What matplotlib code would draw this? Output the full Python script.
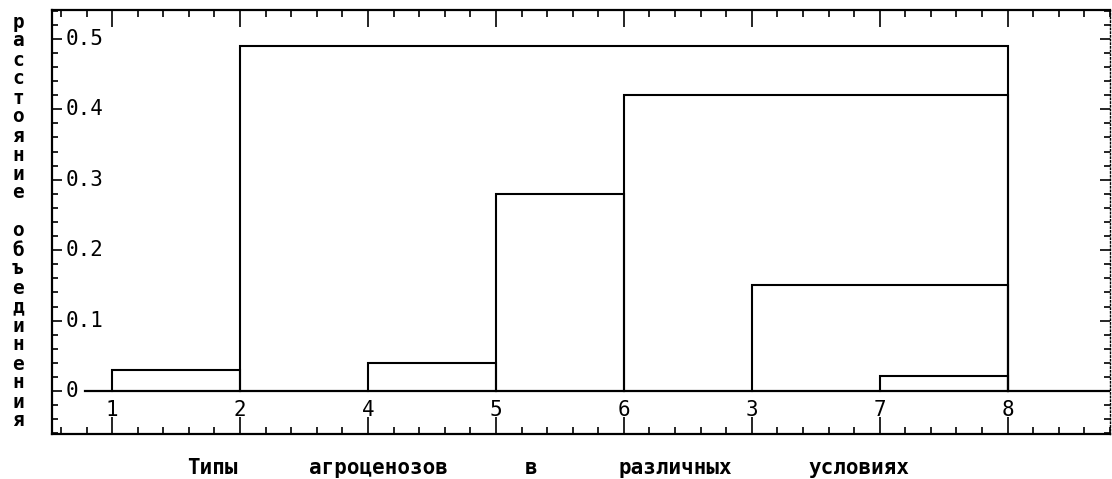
import numpy as np
from matplotlib import pyplot as plt
from matplotlib.ticker import MultipleLocator

# порядок листьев на оси и высоты объединения
leaves = ['1', '2', '4', '5', '6', '3', '7', '8']
link_from = ['1', '2', '4', '5', '6', '3', '7']
link_to = ['2', '8', '5', '6', '8', '8', '8']
link_h = [0.03, 0.49, 0.04, 0.28, 0.42, 0.15, 0.022]

ytick_vals = [0, 0.1, 0.2, 0.3, 0.4, 0.5]
ytick_text = ['0', '0.1', '0.2', '0.3', '0.4', '0.5']

ylabel = 'расстояние объединения'
xwords = ['Типы', 'агроценозов', 'в', 'различных', 'условиях']
xword_pos = [212, 378, 531, 675, 859]   # центры слов в пикселях

mono = 'DejaVu Sans Mono'

fig = plt.figure(figsize=(11.12, 4.79), dpi=100)
ax = fig.add_axes([52/1112, 45/479, 1058/1112, 424/479])

pos = {name: i for i, name in enumerate(leaves)}
for a, b, h in zip(link_from, link_to, link_h):
    xa, xb = pos[a], pos[b]
    ax.plot([xa, xa, xb, xb], [0, h, h, 0], color='black', lw=1.5, solid_joinstyle='miter')

ax.set_xlim(-0.47, 7.8)
ax.set_ylim(-0.061, 0.541)

# нулевая линия
ax.plot([-0.21, 7.8], [0, 0], color='black', lw=1.6)

# деления
ax.xaxis.set_major_locator(MultipleLocator(1))
ax.xaxis.set_minor_locator(MultipleLocator(0.2))
ax.yaxis.set_major_locator(MultipleLocator(0.1))
ax.yaxis.set_minor_locator(MultipleLocator(0.02))
ax.tick_params(which='both', direction='in', top=True, right=True,
               labelbottom=False, labelleft=False, width=1.2, color='black')
ax.tick_params(axis='x', which='major', length=12)
ax.tick_params(axis='x', which='minor', length=5)
ax.tick_params(axis='y', which='major', length=7)
ax.tick_params(axis='y', which='minor', length=4)
for s in ax.spines.values():
    s.set_linewidth(1.6)
ax.spines['right'].set_linestyle(':')
ax.spines['right'].set_linewidth(1.0)

# подписи листьев
for i, name in enumerate(leaves):
    ax.text(i, -0.027, name, ha='center', va='center', family=mono,
            fontsize=15)

# подписи оси y внутри рамки
for v, t in zip(ytick_vals, ytick_text):
    ax.text(0.013, v, t, transform=ax.get_yaxis_transform(), ha='left',
            va='center', family=mono, fontsize=15)

# вертикальная подпись оси y, буква под буквой
for i, ch in enumerate(ylabel):
    fig.text(18/1112, 1 - (22 + i*19.0)/479, ch, ha='center', va='center',
             family=mono, fontsize=14, fontweight='bold')

# подпись оси x
for w, px in zip(xwords, xword_pos):
    fig.text(px/1112, 1 - 468/479, w, ha='center', va='center',
             family=mono, fontsize=15, fontweight='bold')

plt.savefig('out.png', dpi=100)
plt.close()
